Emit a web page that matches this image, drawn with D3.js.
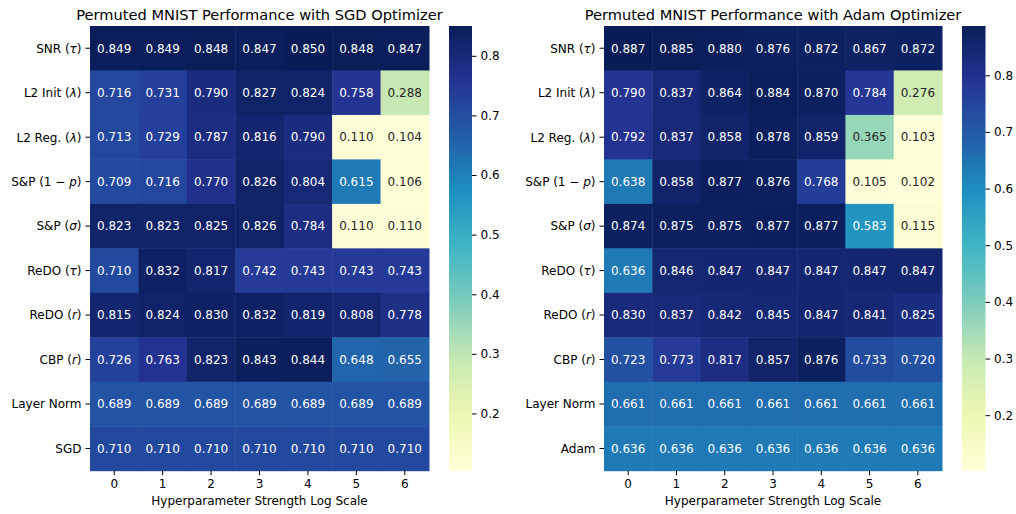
<!DOCTYPE html>
<head>
    <meta charset="utf-8">
    <script src="https://d3js.org/d3.v7.min.js"></script>
    <style>
        body { margin: 0; background: #fff; }
        text { font-family: "DejaVu Sans", sans-serif; fill: #000; }
    </style>
</head>
<body>
    <svg></svg>
    <script>
        // x categories (hyperparameter strength, log scale)
        var strengths = ["0", "1", "2", "3", "4", "5", "6"];

        // row labels: [plain text, italic math symbol, closing text]
        var sgdMethods = [
            ["SNR (", "τ", ")"], ["L2 Init (", "λ", ")"], ["L2 Reg. (", "λ", ")"],
            ["S&P (1 − ", "p", ")"], ["S&P (", "σ", ")"], ["ReDO (", "τ", ")"],
            ["ReDO (", "r", ")"], ["CBP (", "r", ")"], ["Layer Norm", "", ""], ["SGD", "", ""]
        ];
        var adamMethods = sgdMethods.slice(0, 9).concat([["Adam", "", ""]]);

        var sgdValues = [
            [0.849, 0.849, 0.848, 0.847, 0.850, 0.848, 0.847],
            [0.716, 0.731, 0.790, 0.827, 0.824, 0.758, 0.288],
            [0.713, 0.729, 0.787, 0.816, 0.790, 0.110, 0.104],
            [0.709, 0.716, 0.770, 0.826, 0.804, 0.615, 0.106],
            [0.823, 0.823, 0.825, 0.826, 0.784, 0.110, 0.110],
            [0.710, 0.832, 0.817, 0.742, 0.743, 0.743, 0.743],
            [0.815, 0.824, 0.830, 0.832, 0.819, 0.808, 0.778],
            [0.726, 0.763, 0.823, 0.843, 0.844, 0.648, 0.655],
            [0.689, 0.689, 0.689, 0.689, 0.689, 0.689, 0.689],
            [0.710, 0.710, 0.710, 0.710, 0.710, 0.710, 0.710]
        ];

        var adamValues = [
            [0.887, 0.885, 0.880, 0.876, 0.872, 0.867, 0.872],
            [0.790, 0.837, 0.864, 0.884, 0.870, 0.784, 0.276],
            [0.792, 0.837, 0.858, 0.878, 0.859, 0.365, 0.103],
            [0.638, 0.858, 0.877, 0.876, 0.768, 0.105, 0.102],
            [0.874, 0.875, 0.875, 0.877, 0.877, 0.583, 0.115],
            [0.636, 0.846, 0.847, 0.847, 0.847, 0.847, 0.847],
            [0.830, 0.837, 0.842, 0.845, 0.847, 0.841, 0.825],
            [0.723, 0.773, 0.817, 0.857, 0.876, 0.733, 0.720],
            [0.661, 0.661, 0.661, 0.661, 0.661, 0.661, 0.661],
            [0.636, 0.636, 0.636, 0.636, 0.636, 0.636, 0.636]
        ];

        var colorbarTicks = [0.2, 0.3, 0.4, 0.5, 0.6, 0.7, 0.8];

        // matplotlib's YlGnBu anchor colours (linear segments)
        var ylgnbu = ["#ffffd9", "#edf8b1", "#c7e9b4", "#7fcdbb", "#41b6c4",
                      "#1d91c0", "#225ea8", "#253494", "#081d58"];

        var svg = d3.select("svg")
            .attr("width", 1016)
            .attr("height", 514);

        var defs = svg.append("defs");

        // seaborn picks dark or white annotation text from the cell's luminance
        function textColor(c) {
            var rgb = d3.rgb(c);
            var lin = [rgb.r, rgb.g, rgb.b].map(function (v) {
                v = v / 255;
                return v <= 0.03928 ? v / 12.92 : Math.pow((v + 0.055) / 1.055, 2.4);
            });
            var lum = 0.2126 * lin[0] + 0.7152 * lin[1] + 0.0722 * lin[2];
            return lum > 0.408 ? "#262626" : "#ffffff";
        }

        function addLabel(sel, parts) {
            sel.append("tspan").text(parts[0]);
            if (parts[1]) {
                sel.append("tspan").attr("font-style", "italic").text(parts[1]);
                sel.append("tspan").text(parts[2]);
            }
        }

        function drawHeatmap(opt) {
            var values = opt.values;
            var vmin = d3.min(values, function (r) { return d3.min(r); });
            var vmax = d3.max(values, function (r) { return d3.max(r); });

            var color = d3.scaleLinear()
                .domain(d3.range(ylgnbu.length).map(function (i) {
                    return vmin + (vmax - vmin) * i / (ylgnbu.length - 1);
                }))
                .range(ylgnbu)
                .interpolate(d3.interpolateRgb)
                .clamp(true);

            var x = d3.scaleBand()
                .domain(strengths)
                .range([opt.left, opt.right]);
            var y = d3.scaleBand()
                .domain(d3.range(opt.methods.length))
                .range([opt.top, opt.bottom]);

            var g = svg.append("g");

            // cells
            var cells = [];
            values.forEach(function (row, i) {
                row.forEach(function (v, j) {
                    cells.push({ row: i, col: strengths[j], value: v });
                });
            });

            g.selectAll("rect.cell")
                .data(cells)
                .enter().append("rect")
                .attr("class", "cell")
                .attr("x", function (d) { return x(d.col); })
                .attr("y", function (d) { return y(d.row); })
                .attr("width", x.bandwidth() + 0.5)
                .attr("height", y.bandwidth() + 0.5)
                .attr("fill", function (d) { return color(d.value); });

            g.selectAll("text.annot")
                .data(cells)
                .enter().append("text")
                .attr("class", "annot")
                .attr("x", function (d) { return x(d.col) + x.bandwidth() / 2; })
                .attr("y", function (d) { return y(d.row) + y.bandwidth() / 2; })
                .attr("dy", "0.36em")
                .attr("text-anchor", "middle")
                .style("font-size", "12px")
                .style("fill", function (d) { return textColor(color(d.value)); })
                .text(function (d) { return d.value.toFixed(3); });

            // x axis
            var xAxis = g.append("g")
                .attr("transform", "translate(0," + opt.bottom + ")")
                .call(d3.axisBottom(x).tickSize(4.5).tickPadding(4.5));
            xAxis.select(".domain").remove();
            xAxis.selectAll("text").style("font-size", "12px");
            xAxis.selectAll("line").attr("stroke", "#000").attr("stroke-width", 1);

            // y axis
            var yAxis = g.append("g")
                .attr("transform", "translate(" + opt.left + ",0)")
                .call(d3.axisLeft(y).tickSize(4.5).tickPadding(4).tickFormat(""));
            yAxis.select(".domain").remove();
            yAxis.selectAll("line").attr("stroke", "#000").attr("stroke-width", 1);
            yAxis.selectAll(".tick text").each(function (d) {
                var t = d3.select(this)
                    .style("font-size", "12px")
                    .attr("dy", "0.36em");
                addLabel(t, opt.methods[d]);
            });

            // title
            g.append("text")
                .attr("x", (opt.left + opt.right) / 2)
                .attr("y", 20)
                .attr("text-anchor", "middle")
                .style("font-size", "14.6px")
                .text(opt.title);

            // x label
            g.append("text")
                .attr("x", (opt.left + opt.right) / 2)
                .attr("y", 505)
                .attr("text-anchor", "middle")
                .style("font-size", "12px")
                .text("Hyperparameter Strength Log Scale");

            // colorbar
            var cb = d3.scaleLinear()
                .domain([vmin, vmax])
                .range([opt.bottom, opt.top]);

            var grad = defs.append("linearGradient")
                .attr("id", opt.id)
                .attr("x1", 0).attr("y1", 1)
                .attr("x2", 0).attr("y2", 0);
            grad.selectAll("stop")
                .data(d3.range(0, 1.0001, 1 / 32))
                .enter().append("stop")
                .attr("offset", function (t) { return t; })
                .attr("stop-color", function (t) { return color(vmin + t * (vmax - vmin)); });

            g.append("rect")
                .attr("x", opt.cbLeft)
                .attr("y", opt.top)
                .attr("width", opt.cbWidth)
                .attr("height", opt.bottom - opt.top)
                .attr("fill", "url(#" + opt.id + ")");

            var cbAxis = g.append("g")
                .attr("transform", "translate(" + (opt.cbLeft + opt.cbWidth) + ",0)")
                .call(d3.axisRight(cb).tickValues(colorbarTicks).tickSize(4.5).tickPadding(4)
                    .tickFormat(d3.format(".1f")));
            cbAxis.select(".domain").remove();
            cbAxis.selectAll("text").style("font-size", "12px");
            cbAxis.selectAll("line").attr("stroke", "#000").attr("stroke-width", 1);
        }

        drawHeatmap({
            id: "cb-sgd",
            title: "Permuted MNIST Performance with SGD Optimizer",
            methods: sgdMethods,
            values: sgdValues,
            left: 90, right: 429, top: 26, bottom: 470.7,
            cbLeft: 449, cbWidth: 23
        });

        drawHeatmap({
            id: "cb-adam",
            title: "Permuted MNIST Performance with Adam Optimizer",
            methods: adamMethods,
            values: adamValues,
            left: 604, right: 942, top: 26, bottom: 470.7,
            cbLeft: 962, cbWidth: 23.5
        });
    </script>
</body>
